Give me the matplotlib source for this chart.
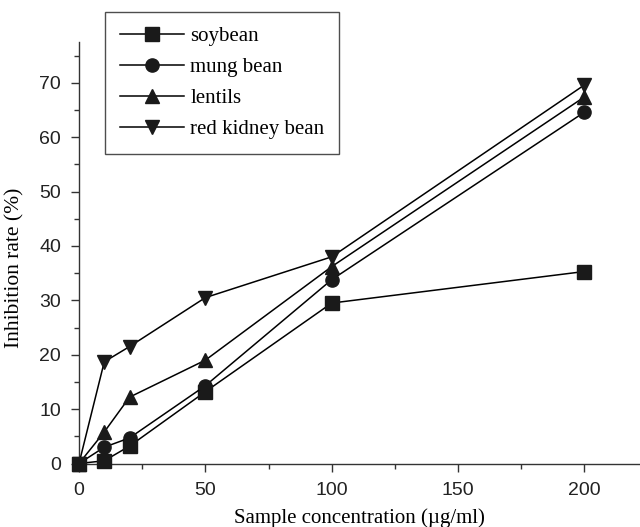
import matplotlib
matplotlib.use("Agg")
import matplotlib.pyplot as plt
from matplotlib.ticker import MultipleLocator

conc = [0, 10, 20, 50, 100, 200]
soybean = [0, 0.5, 3.2, 13.2, 29.5, 35.3]
mung_bean = [0, 3.0, 4.7, 14.3, 33.8, 64.6]
lentils = [0, 5.8, 12.2, 19.0, 36.2, 67.4]
red_kidney = [0, 18.7, 21.5, 30.5, 38.0, 69.6]

series = [
    ("soybean", soybean, "s"),
    ("mung bean", mung_bean, "o"),
    ("lentils", lentils, "^"),
    ("red kidney bean", red_kidney, "v"),
]

serif = "Liberation Serif"
sans = "Liberation Sans"

fig = plt.figure(figsize=(6.4, 5.27), dpi=100)
ax = fig.add_axes([79 / 640, 63.5 / 527, 561 / 640, 421.5 / 527])

for name, ys, mk in series:
    ax.plot(conc, ys, color="black", lw=1.1, marker=mk, markersize=9.5,
            markerfacecolor="#1a1a1a", markeredgecolor="#1a1a1a",
            label=name, clip_on=False, zorder=3)

ax.set_xlim(0, 222)
ax.set_ylim(0, 77.5)
ax.xaxis.set_major_locator(MultipleLocator(50))
ax.xaxis.set_minor_locator(MultipleLocator(25))
ax.yaxis.set_major_locator(MultipleLocator(10))
ax.yaxis.set_minor_locator(MultipleLocator(5))

for side in ("top", "right"):
    ax.spines[side].set_visible(False)
for side in ("left", "bottom"):
    ax.spines[side].set_color("#333333")
    ax.spines[side].set_linewidth(1.0)

ax.tick_params(which="major", direction="out", length=6, width=1,
               color="#333333", labelsize=14, pad=7)
ax.tick_params(which="minor", direction="out", length=3.5, width=1,
               color="#333333")
for lab in ax.get_xticklabels() + ax.get_yticklabels():
    lab.set_fontfamily(sans)
    lab.set_color("#222222")

ax.set_xlabel("Sample concentration (µg/ml)", fontfamily=serif,
              fontsize=15, labelpad=7)
ax.set_ylabel("Inhibition rate (%)", fontfamily=serif, fontsize=15.5,
              labelpad=8)
ax.yaxis.set_label_coords(-0.098, 0.464)

leg = ax.legend(loc="upper left", bbox_to_anchor=(105 / 640, 1 - 12 / 527),
                bbox_transform=fig.transFigure, borderaxespad=0,
                prop={"family": serif, "size": 15}, frameon=True,
                fancybox=False, borderpad=0.7, labelspacing=0.55,
                handlelength=3.1, handletextpad=0.3)
leg.get_frame().set_edgecolor("#222222")
leg.get_frame().set_linewidth(1.0)

fig.savefig("out.png", dpi=100)
